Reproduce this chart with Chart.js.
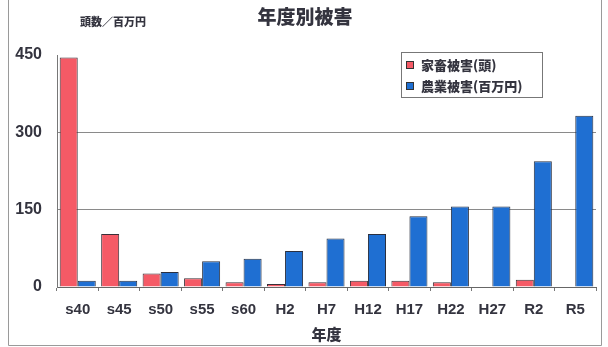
<!DOCTYPE html>
<html>
<head>
<meta charset="utf-8">
<script src="https://cdn.jsdelivr.net/npm/chart.js@4/dist/chart.umd.min.js"></script>
<style>
  html, body { margin: 0; padding: 0; background: #fff; }
  canvas { display: block; }
</style>
</head>
<body>
<canvas id="damageChart" width="608" height="347"></canvas>
<script>
// Data
const years = ['s40', 's45', 's50', 's55', 's60', 'H2', 'H7', 'H12', 'H17', 'H22', 'H27', 'R2', 'R5'];
const livestockDamage = [445, 103, 26, 17, 9, 6, 9, 12, 12, 9, 0, 14, 0];
const farmDamage = [12, 12, 29, 50, 55, 70, 94, 103, 137, 156, 156, 244, 332];
const seriesNames = ['家畜被害(頭)', '農業被害(百万円)'];
const yTicks = [0, 150, 300, 450];

const jpFont = '"Noto Sans CJK JP", "Noto Sans", sans-serif';
const numFont = '"Liberation Sans", Arial, sans-serif';
const textColor = '#34343f';

// Title, unit label, legend box and frame drawn on top
const decorations = {
    id: 'decorations',
    afterDraw(chart) {
        const ctx = chart.ctx;
        ctx.save();

        // frame
        ctx.strokeStyle = '#9a9a9a';
        ctx.lineWidth = 1;
        ctx.beginPath();
        ctx.moveTo(8.5, 0);
        ctx.lineTo(8.5, 345.5);
        ctx.lineTo(601.5, 345.5);
        ctx.lineTo(601.5, 0);
        ctx.stroke();

        // title
        ctx.fillStyle = textColor;
        ctx.textAlign = 'center';
        ctx.textBaseline = 'middle';
        ctx.font = '900 19px ' + jpFont;
        ctx.fillText('年度別被害', 305, 17);

        // unit label
        ctx.font = '900 11px ' + jpFont;
        ctx.textAlign = 'left';
        ctx.fillText('頭数／百万円', 80, 22);

        // legend
        ctx.strokeStyle = '#777';
        ctx.strokeRect(401.5, 52.5, 141, 45);
        ctx.font = '900 13px ' + jpFont;
        chart.data.datasets.forEach((ds, i) => {
            const y = 65 + i * 21;
            ctx.fillStyle = ds.backgroundColor;
            ctx.fillRect(406, y - 4, 8, 8);
            ctx.strokeStyle = '#333';
            ctx.strokeRect(406.5, y - 3.5, 7, 7);
            ctx.fillStyle = textColor;
            ctx.fillText(ds.label, 421, y);
        });
        ctx.restore();
    }
};

new Chart(document.getElementById('damageChart'), {
    type: 'bar',
    data: {
        labels: years,
        datasets: [
            {
                label: seriesNames[0],
                data: livestockDamage,
                backgroundColor: '#f55a66',
                borderColor: '#3a3038',
                borderWidth: 1
            },
            {
                label: seriesNames[1],
                data: farmDamage,
                backgroundColor: '#1f6fd2',
                borderColor: '#2a3040',
                borderWidth: 1
            }
        ]
    },
    options: {
        responsive: false,
        animation: false,
        layout: { padding: { top: 55, right: 12, left: 0, bottom: 4 } },
        datasets: {
            bar: { categoryPercentage: 0.87, barPercentage: 1 }
        },
        plugins: {
            legend: { display: false },
            title: { display: false },
            tooltip: { enabled: false }
        },
        scales: {
            x: {
                grid: {
                    offset: true,
                    drawOnChartArea: false,
                    drawTicks: true,
                    tickLength: 4,
                    color: '#777'
                },
                border: { color: '#666', width: 1 },
                ticks: {
                    color: textColor,
                    padding: 10,
                    font: { family: numFont, size: 15, weight: 'bold' }
                },
                title: {
                    display: true,
                    text: '年度',
                    color: textColor,
                    padding: { top: 0, bottom: 0 },
                    font: { family: jpFont, size: 15, weight: '900' }
                },
                afterFit(scale) { scale.height = 56; }
            },
            y: {
                min: 0,
                max: 450,
                afterBuildTicks(scale) {
                    scale.ticks = yTicks.map(v => ({ value: v }));
                },
                grid: {
                    drawTicks: false,
                    color: ctx => (ctx.tick && (ctx.tick.value === 150 || ctx.tick.value === 300)) ? '#8a8a8a' : 'rgba(0,0,0,0)'
                },
                border: { color: '#777', width: 1 },
                ticks: {
                    color: textColor,
                    padding: 15,
                    font: { family: numFont, size: 16, weight: 'bold' }
                },
                afterFit(scale) { scale.width = 57; }
            }
        }
    },
    plugins: [decorations]
});
</script>
</body>
</html>
